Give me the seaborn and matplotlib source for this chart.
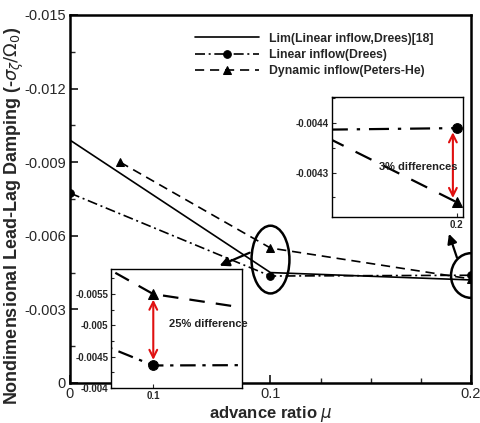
import numpy as np
import pandas as pd
import seaborn as sns
import matplotlib
matplotlib.use("Agg")
import matplotlib.pyplot as plt
from matplotlib.patches import Ellipse
from matplotlib.ticker import FixedLocator, MultipleLocator

# Advance ratio (mu) and nondimensional lead-lag damping values
mu_lim = [0.0, 0.1, 0.2]
damp_lim = [-0.0099, -0.0045, -0.0042]

mu_linear = [0.0, 0.1, 0.2]
damp_linear = [-0.00774, -0.00436, -0.00439]

mu_dynamic = [0.025, 0.1, 0.2]
damp_dynamic = [-0.0090, -0.0055, -0.00424]

series_labels = ["Lim(Linear inflow,Drees)[18]",
                 "Linear inflow(Drees)",
                 "Dynamic inflow(Peters-He)"]

x_ticks = [0.0, 0.1, 0.2]
x_tick_labels = ["0", "0.1", "0.2"]
y_ticks = [0.0, -0.003, -0.006, -0.009, -0.012, -0.015]
y_tick_labels = ["0", "-0.003", "-0.006", "-0.009", "-0.012", "-0.015"]

inset1_yticks = [-0.004, -0.0045, -0.005, -0.0055]
inset1_ylabels = ["-0.004", "-0.0045", "-0.005", "-0.0055"]
inset2_yticks = [-0.0043, -0.0044]
inset2_ylabels = ["-0.0043", "-0.0044"]

sns.set_theme(style="white")
plt.rcParams["font.family"] = ["Liberation Sans", "DejaVu Sans"]
plt.rcParams["mathtext.fontset"] = "dejavusans"

df_lim = pd.DataFrame({"mu": mu_lim, "damp": damp_lim})
df_lin = pd.DataFrame({"mu": mu_linear, "damp": damp_linear})
df_dyn = pd.DataFrame({"mu": mu_dynamic, "damp": damp_dynamic})

fig = plt.figure(figsize=(4.81, 4.23), dpi=100)
ax = fig.add_axes([0.1455, 0.0946, 0.8337, 0.870])

DASHDOT = (0, (6.0, 2.2, 1.2, 2.2))
DASHED = (0, (5.5, 3.5))


def draw_series(a, lw, dd, dsh, ms, with_lim=True):
    if with_lim:
        sns.lineplot(data=df_lim, x="mu", y="damp", ax=a, color="black",
                     lw=lw, linestyle="-", label=series_labels[0], legend=False)
    sns.lineplot(data=df_lin, x="mu", y="damp", ax=a, color="black", lw=lw,
                 linestyle=dd, marker="o", markersize=ms, markeredgecolor="black",
                 label=series_labels[1], legend=False)
    sns.lineplot(data=df_dyn, x="mu", y="damp", ax=a, color="black", lw=lw,
                 linestyle=dsh, marker="^", markersize=ms, markeredgecolor="black",
                 label=series_labels[2], legend=False)
    return a


draw_series(ax, 1.2, DASHDOT, DASHED, 5.5)

ax.set_xlim(0.0, 0.2)
ax.set_ylim(0.0, -0.015)
ax.xaxis.set_major_locator(FixedLocator(x_ticks))
ax.set_xticklabels(x_tick_labels)
ax.xaxis.set_minor_locator(MultipleLocator(0.025))
ax.yaxis.set_major_locator(FixedLocator(y_ticks))
ax.set_yticklabels(y_tick_labels)
ax.yaxis.set_minor_locator(MultipleLocator(0.0015))
ax.tick_params(which="both", direction="in", left=True, bottom=True,
               top=False, right=False, labelsize=10.5, pad=3)
ax.tick_params(which="major", length=6, width=1.3)
ax.tick_params(which="minor", length=3.5, width=1.0)
for sp in ax.spines.values():
    sp.set_linewidth(1.8)
    sp.set_color("black")

ax.set_xlabel(r"advance ratio $\mu$", fontsize=12, fontweight="bold", labelpad=2)
ax.set_ylabel(r"Nondimensional Lead-Lag Damping (-$\sigma_\zeta/\Omega_0$)",
              fontsize=13, fontweight="bold")
ax.yaxis.set_label_coords(-0.11, 0.454)

leg = ax.legend(loc="upper left", bbox_to_anchor=(0.3, 0.965), frameon=False,
                fontsize=8.8, handlelength=5.2, handletextpad=0.8,
                labelspacing=0.35, borderaxespad=0)
for t in leg.get_texts():
    t.set_fontweight("bold")

# Highlight ellipses and pointer arrows
e1 = Ellipse((0.1, -0.00503), 0.0189, 0.00276, fill=False,
             lw=1.8, edgecolor="black", zorder=5)
e2 = Ellipse((0.2, -0.00438), 0.0199, 0.00182, fill=False,
             lw=1.8, edgecolor="black", zorder=5)
for e in (e1, e2):
    ax.add_patch(e)
    e.set_clip_on(True)
    e.set_clip_path(ax.patch)
ax.annotate("", xy=(0.0746, -0.00478), xytext=(0.0896, -0.00531),
            arrowprops=dict(arrowstyle="-|>", color="black", lw=1.6,
                            mutation_scale=14, shrinkA=0, shrinkB=0))
ax.annotate("", xy=(0.189, -0.00608), xytext=(0.193, -0.00511),
            arrowprops=dict(arrowstyle="-|>", color="black", lw=1.6,
                            mutation_scale=14, shrinkA=0, shrinkB=0))


def style_inset(a, xt, xl, yt, yl):
    a.xaxis.set_major_locator(FixedLocator(xt))
    a.set_xticklabels(xl)
    a.yaxis.set_major_locator(FixedLocator(yt))
    a.set_yticklabels(yl)
    a.tick_params(which="both", direction="in", left=True, bottom=True,
                  top=False, right=False, labelsize=7, pad=2)
    a.tick_params(which="major", length=3, width=0.8)
    a.tick_params(which="minor", length=2, width=0.8)
    for lab in a.get_xticklabels() + a.get_yticklabels():
        lab.set_fontweight("bold")
    for sp in a.spines.values():
        sp.set_linewidth(1.0)
        sp.set_color("black")
    a.set_xlabel("")
    a.set_ylabel("")
    a.set_facecolor("white")


# Inset near mu = 0.1
ax1 = fig.add_axes([0.2308, 0.0827, 0.2723, 0.2813])
draw_series(ax1, 1.6, (0, (7, 3, 1.5, 3)), (0, (7, 5)), 7, with_lim=False)
ax1.set_xlim(0.0919, 0.117)
ax1.set_ylim(-0.004, -0.0059)
ax1.yaxis.set_minor_locator(MultipleLocator(0.00025))
style_inset(ax1, [0.1], ["0.1"], inset1_yticks, inset1_ylabels)
ax1.annotate("", xy=(0.1, damp_dynamic[1]), xytext=(0.1, damp_linear[1]),
             arrowprops=dict(arrowstyle="<->", color="#e01010", lw=1.5,
                             mutation_scale=14, shrinkA=4, shrinkB=4))
ax1.text(0.1030, -0.00502, "25% difference", fontsize=8, fontweight="bold",
         ha="left", va="center", color="#222222")

# Inset near mu = 0.2
ax2 = fig.add_axes([0.690, 0.487, 0.2723, 0.2837])
draw_series(ax2, 1.6, (0, (9, 4, 1.5, 4)), (0, (8, 6)), 7, with_lim=False)
ax2.set_xlim(0.19, 0.2005)
ax2.set_ylim(-0.00421, -0.004453)
ax2.yaxis.set_minor_locator(MultipleLocator(0.00005))
style_inset(ax2, [0.2], ["0.2"], inset2_yticks, inset2_ylabels)
ax2.annotate("", xy=(0.1997, damp_dynamic[2]), xytext=(0.1997, damp_linear[2]),
             arrowprops=dict(arrowstyle="<->", color="#e01010", lw=1.5,
                             mutation_scale=14, shrinkA=3, shrinkB=3))
ax2.text(0.2001, -0.004311, "3% differences", fontsize=8, fontweight="bold",
         ha="right", va="center", color="#222222")

fig.savefig("out.png", dpi=100)
